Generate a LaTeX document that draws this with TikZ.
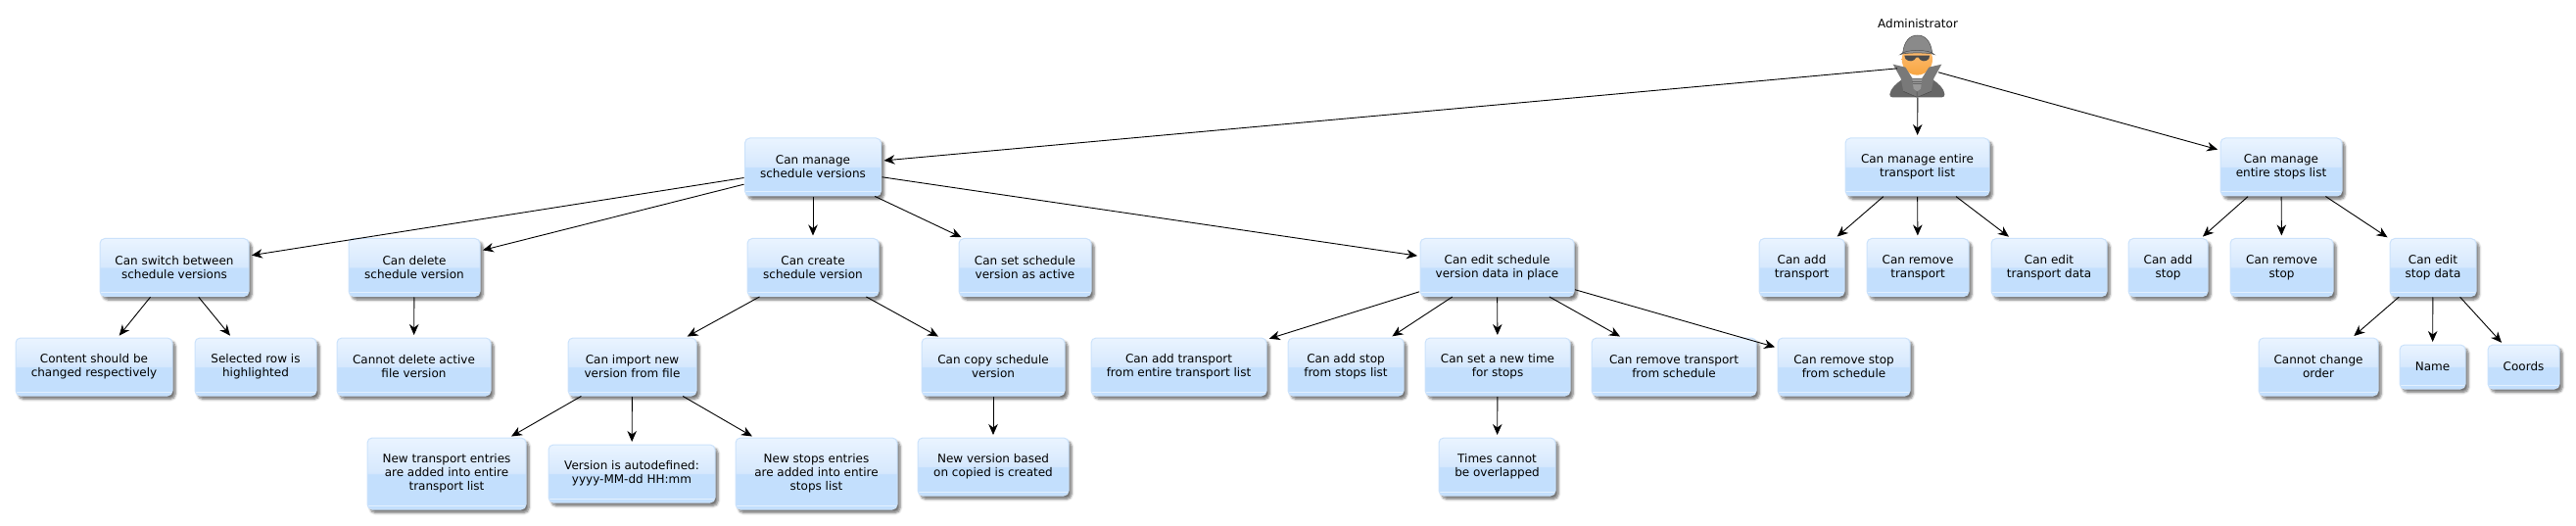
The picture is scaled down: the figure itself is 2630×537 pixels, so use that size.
\documentclass[tikz,border=0pt]{standalone}
\usepackage{fontspec}
\setmainfont{DejaVu Sans}
\usetikzlibrary{arrows.meta,shadows,shadows.blur}
\definecolor{boxtop}{HTML}{EAF4FF}
\definecolor{boxmid}{HTML}{D6E8FD}
\definecolor{boxlow}{HTML}{C3DFFD}
\definecolor{boxline}{HTML}{CBE2FB}
\definecolor{facetop}{HTML}{FFC27E}
\definecolor{facelow}{HTML}{F8A540}
\definecolor{hatgray}{HTML}{8A8A8A}
\definecolor{coatgray}{HTML}{666666}
\pgfdeclareverticalshading{boxshade}{100bp}{
  color(0bp)=(boxlow); color(25bp)=(boxlow); color(49.5bp)=(boxlow);
  color(50.5bp)=(boxmid); color(75bp)=(boxtop); color(100bp)=(boxtop)}
\tikzset{
  casebox/.style  = {rectangle, rounded corners=5pt, draw=boxline, line width=1pt,
                     shading=boxshade, inner sep=0pt, outer sep=0pt, align=center,
                     minimum height=59pt, font=\fontsize{12}{14}\selectfont,
                     blur shadow={shadow xshift=3pt,shadow yshift=-3.5pt,shadow blur steps=6,shadow blur radius=2.5pt,shadow opacity=55},
                     path picture={\draw[white,opacity=.55,line width=1pt]
                       ([yshift=4pt]path picture bounding box.south west) -- ([yshift=4pt]path picture bounding box.south east);}},
  actorbox/.style = {rectangle, inner sep=0pt, outer sep=0pt, minimum width=40pt, minimum height=62pt},
  edgearr/.style  = {-{Stealth[length=11pt,width=9.5pt,inset=3.5pt]}, black, line width=.9pt, shorten >=3pt, shorten <=1pt}
}

\begin{document}
\begin{tikzpicture}[x=1pt,y=-1pt]
  \useasboundingbox (0,0) rectangle (2630,537);
  % actor
  \node[actorbox] (admin) at (1958,68) {};
  \node[font=\fontsize{12}{14}\selectfont] (adminlbl) at (1958,24) {Administrator};
  \begin{scope}[shift={(1920,30)},x=.3333pt,y=-.3333pt]
    \fill[coatgray,rounded corners=3pt] (27,208) .. controls (30,180) and (50,165) .. (70,150)
      -- (155,150) .. controls (175,165) and (195,180) .. (197,208) -- cycle;
    \shade[top color=facetop,bottom color=facelow] (112,92) ellipse (47 and 48);
    \fill[gray!95!black] (38,107) -- (76,116) -- (110,170) -- (110,208) -- (70,190) -- (62,150) -- cycle;
    \fill[gray!95!black] (187,107) -- (148,116) -- (114,170) -- (114,208) -- (155,190) -- (163,150) -- cycle;
    \fill[gray!80] (97,152) -- (127,152) -- (123,182) -- (112,190) -- (101,182) -- cycle;
    \draw[coatgray,line width=.7pt] (97,159) -- (127,159) (98,167) -- (126,167);
    \draw[gray!50!black,line width=.4pt] (70,190) -- (112,208) -- (155,190);
    \fill[hatgray,draw=gray!60!black,line width=.5pt] (68,72) .. controls (72,35) and (90,18) .. (113,18)
      .. controls (136,18) and (154,35) .. (158,72) -- cycle;
    \fill[gray!85,draw=gray!60!black,line width=.5pt] (60,77) .. controls (75,60) and (150,60) .. (165,77)
      .. controls (150,70) and (75,70) .. (60,77) -- cycle;
    \fill[black!70] (73,80) -- (150,80) -- (148,90) .. controls (140,100) and (122,100) .. (116,86)
      -- (109,86) .. controls (103,100) and (85,100) .. (76,90) -- cycle;
  \end{scope}
  % level one
  \node[casebox,minimum width=139pt] (mngVers) at (830,170.5) {Can manage\\schedule versions};
  \node[casebox,minimum width=147pt] (mngTrans) at (1957.5,170.5) {Can manage entire\\transport list};
  \node[casebox,minimum width=124pt] (mngStops) at (2329,170.5) {Can manage\\entire stops list};
  % level two
  \node[casebox,minimum width=152pt] (switchVers) at (178,273) {Can switch between\\schedule versions};
  \node[casebox,minimum width=134pt] (delVers) at (423,273) {Can delete\\schedule version};
  \node[casebox,minimum width=134pt] (newVers) at (830,273) {Can create\\schedule version};
  \node[casebox,minimum width=135pt] (setActive) at (1046.5,273) {Can set schedule\\version as active};
  \node[casebox,minimum width=157pt] (editVers) at (1528.5,273) {Can edit schedule\\version data in place};
  \node[casebox,minimum width=87pt] (addTrans) at (1839.5,273) {Can add\\transport};
  \node[casebox,minimum width=104pt] (rmTrans) at (1958,273) {Can remove\\transport};
  \node[casebox,minimum width=118pt] (editTrans) at (2092,273) {Can edit\\transport data};
  \node[casebox,minimum width=81pt] (addStop) at (2213.5,273) {Can add\\stop};
  \node[casebox,minimum width=105pt] (rmStop) at (2329.5,273) {Can remove\\stop};
  \node[casebox,minimum width=88pt] (editStop) at (2484,273) {Can edit\\stop data};
  % level three
  \node[casebox,minimum width=160pt] (contentRow) at (96,374.5) {Content should be\\changed respectively};
  \node[casebox,minimum width=124pt] (selRow) at (261,374.5) {Selected row is\\highlighted};
  \node[casebox,minimum width=157pt] (noDel) at (422.5,374.5) {Cannot delete active\\file version};
  \node[casebox,minimum width=131pt] (importVers) at (645.5,374.5) {Can import new\\version from file};
  \node[casebox,minimum width=146pt] (copyVers) at (1014,374.5) {Can copy schedule\\version};
  \node[casebox,minimum width=179pt] (addFromList) at (1203.5,374.5) {Can add transport\\from entire transport list};
  \node[casebox,minimum width=118pt] (stopFromList) at (1374,374.5) {Can add stop\\from stops list};
  \node[casebox,minimum width=148pt] (setTime) at (1529,374.5) {Can set a new time\\for stops};
  \node[casebox,minimum width=168pt] (rmFromSched) at (1709,374.5) {Can remove transport\\from schedule};
  \node[casebox,minimum width=135pt] (rmStopSched) at (1882.5,374.5) {Can remove stop\\from schedule};
  \node[casebox,minimum width=122pt] (noOrder) at (2367,374.5) {Cannot change\\order};
  \node[casebox,minimum width=67pt,minimum height=45pt] (stopName) at (2483.5,374.5) {Name};
  \node[casebox,minimum width=73pt,minimum height=45pt] (stopCoords) at (2576.5,374.5) {Coords};
  % level four
  \node[casebox,minimum width=162pt,minimum height=73pt] (newEntries) at (456,483.5) {New transport entries\\are added into entire\\transport list};
  \node[casebox,minimum width=170pt] (autoVers) at (645,483.5) {Version is autodefined:\\yyyy-MM-dd HH:mm};
  \node[casebox,minimum width=165pt,minimum height=73pt] (newStops) at (833.5,483.5) {New stops entries\\are added into entire\\stops list};
  \node[casebox,minimum width=154pt] (copiedVers) at (1014,476.5) {New version based\\on copied is created};
  \node[casebox,minimum width=119pt] (noOverlap) at (1528.5,476.5) {Times cannot\\be overlapped};
  % connectors
  \draw[edgearr] (admin) -- (mngVers);
  \draw[edgearr] (admin) -- (mngTrans);
  \draw[edgearr] (admin) -- (mngStops);
  \draw[edgearr] (mngVers) -- (switchVers);
  \draw[edgearr] (mngVers) -- (delVers);
  \draw[edgearr] (mngVers) -- (newVers);
  \draw[edgearr] (mngVers) -- (setActive);
  \draw[edgearr] (mngVers) -- (editVers);
  \draw[edgearr] (mngTrans) -- (addTrans);
  \draw[edgearr] (mngTrans) -- (rmTrans);
  \draw[edgearr] (mngTrans) -- (editTrans);
  \draw[edgearr] (mngStops) -- (addStop);
  \draw[edgearr] (mngStops) -- (rmStop);
  \draw[edgearr] (mngStops) -- (editStop);
  \draw[edgearr] (switchVers) -- (contentRow);
  \draw[edgearr] (switchVers) -- (selRow);
  \draw[edgearr] (delVers) -- (noDel);
  \draw[edgearr] (newVers) -- (importVers);
  \draw[edgearr] (newVers) -- (copyVers);
  \draw[edgearr] (editVers) -- (addFromList);
  \draw[edgearr] (editVers) -- (stopFromList);
  \draw[edgearr] (editVers) -- (setTime);
  \draw[edgearr] (editVers) -- (rmFromSched);
  \draw[edgearr] (editVers) -- (rmStopSched);
  \draw[edgearr] (editStop) -- (noOrder);
  \draw[edgearr] (editStop) -- (stopName);
  \draw[edgearr] (editStop) -- (stopCoords);
  \draw[edgearr] (importVers) -- (newEntries);
  \draw[edgearr] (importVers) -- (autoVers);
  \draw[edgearr] (importVers) -- (newStops);
  \draw[edgearr] (copyVers) -- (copiedVers);
  \draw[edgearr] (setTime) -- (noOverlap);
\end{tikzpicture}
\end{document}
